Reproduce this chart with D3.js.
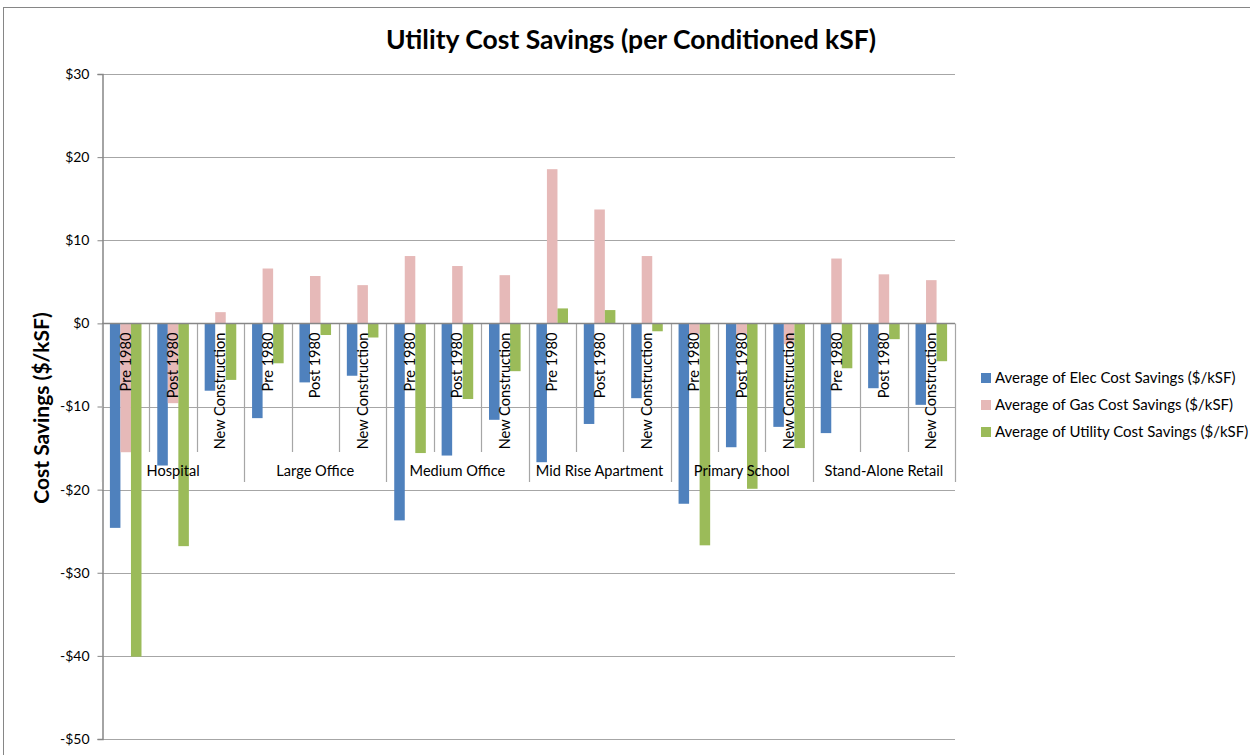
<!DOCTYPE html>
<html lang="en">
<head>
    <meta charset="UTF-8">
    <title>Utility Cost Savings</title>
    <script src="https://d3js.org/d3.v7.min.js"></script>
    <style>
        body {
            margin: 0;
            padding: 0;
            background: #fff;
            font-family: Lato, "Open Sans", sans-serif;
        }
        svg {
            display: block;
        }
    </style>
</head>
<body>
    <svg id="chart" width="1250" height="755"></svg>

    <script>
        // building types (outer category level)
        const groups = ["Hospital", "Large Office", "Medium Office", "Mid Rise Apartment", "Primary School", "Stand-Alone Retail"];
        // vintage (inner category level)
        const eras = ["Pre 1980", "Post 1980", "New Construction"];

        // values per group, in era order ($/kSF)
        const elecSavings = [-24.6, -17.1, -8.1, -11.4, -7.1, -6.3, -23.7, -15.9, -11.6, -16.7, -12.1, -9.0, -21.7, -14.9, -12.45, -13.2, -7.8, -9.8];
        const gasSavings = [-15.5, -9.6, 1.35, 6.6, 5.7, 4.6, 8.1, 6.9, 5.8, 18.55, 13.7, 8.1, -1.3, -1.3, -2.5, 7.8, 5.9, 5.2];
        const utilitySavings = [-40.1, -26.8, -6.8, -4.8, -1.4, -1.7, -15.6, -9.1, -5.75, 1.8, 1.6, -0.95, -26.7, -19.9, -15.0, -5.4, -1.9, -4.55];

        const seriesNames = [
            "Average of Elec Cost Savings ($/kSF)",
            "Average of Gas Cost Savings ($/kSF)",
            "Average of Utility Cost Savings ($/kSF)"
        ];
        const seriesColors = ["#4f81bd", "#e6b9b8", "#9bbb59"];
        const yTicks = [30, 20, 10, 0, -10, -20, -30, -40, -50];

        const svg = d3.select("#chart");

        // chart frame
        svg.append("rect")
            .attr("x", 3.5).attr("y", 7.5)
            .attr("width", 1260).attr("height", 760)
            .attr("fill", "none")
            .attr("stroke", "#868686");

        const plot = { left: 102, right: 955, top: 74, bottom: 739 };

        const y = d3.scaleLinear().domain([-50, 30]).range([plot.bottom, plot.top]);

        // one slot per (group, era)
        const slots = [];
        groups.forEach((g, gi) => eras.forEach((e, ei) => slots.push({ group: g, era: e, idx: gi * eras.length + ei })));

        const xGroup = d3.scaleBand().domain(groups).range([plot.left, plot.right]);
        const xSlot = d3.scaleBand().domain(slots.map(s => s.idx)).range([plot.left, plot.right]);
        const xSeries = d3.scaleBand().domain([0, 1, 2]).range([0, xSlot.bandwidth()]).paddingInner(0).paddingOuter(0.75);

        // gridlines
        svg.append("g")
            .selectAll("line")
            .data(yTicks.filter(d => d !== 0))
            .enter().append("line")
            .attr("x1", plot.left).attr("x2", plot.right)
            .attr("y1", d => Math.round(y(d)) + 0.5).attr("y2", d => Math.round(y(d)) + 0.5)
            .attr("stroke", "#a6a6a6")
            .attr("stroke-width", 1.2);

        // y axis
        const yAxis = d3.axisLeft(y)
            .tickValues(yTicks)
            .tickSize(5)
            .tickFormat(d => (d < 0 ? "-$" : "$") + Math.abs(d));

        const yAxisG = svg.append("g")
            .attr("transform", `translate(${plot.left + 0.5},0)`)
            .call(yAxis);
        yAxisG.select(".domain").attr("stroke", "#868686").attr("stroke-width", 1.5);
        yAxisG.selectAll(".tick line").attr("stroke", "#868686");
        yAxisG.selectAll(".tick text")
            .attr("x", -13)
            .attr("font-family", "Lato, sans-serif")
            .attr("font-size", "14px")
            .attr("fill", "#000");

        // bars
        const allSeries = [elecSavings, gasSavings, utilitySavings];
        allSeries.forEach((vals, si) => {
            svg.append("g")
                .selectAll("rect")
                .data(slots)
                .enter().append("rect")
                .attr("x", s => xSlot(s.idx) + xSeries(si))
                .attr("width", xSeries.bandwidth())
                .attr("y", s => y(Math.max(0, vals[s.idx])))
                .attr("height", s => Math.abs(y(vals[s.idx]) - y(0)))
                .attr("fill", seriesColors[si]);
        });

        // category axis (at zero)
        const y0 = Math.round(y(0)) + 0.5;
        const catG = svg.append("g");

        // separators between eras (short) and groups (long)
        catG.selectAll("line.sub")
            .data(d3.range(slots.length + 1))
            .enter().append("line")
            .attr("x1", i => Math.round(plot.left + i * xSlot.step()) + 0.5)
            .attr("x2", i => Math.round(plot.left + i * xSlot.step()) + 0.5)
            .attr("y1", y0)
            .attr("y2", i => (i % eras.length === 0 ? 482 : 452))
            .attr("stroke", "#a6a6a6")
            .attr("stroke-width", 1.2);

        catG.append("line")
            .attr("x1", plot.left).attr("x2", plot.right)
            .attr("y1", y0).attr("y2", y0)
            .attr("stroke", "#868686")
            .attr("stroke-width", 1.5);

        // era labels, rotated
        catG.selectAll("text.era")
            .data(slots)
            .enter().append("text")
            .attr("transform", s => `translate(${xSlot(s.idx) + xSlot.bandwidth() / 2 + 5},${y0 + 9}) rotate(-90)`)
            .attr("text-anchor", "end")
            .attr("font-family", "Lato, sans-serif")
            .attr("font-size", "14.6px")
            .attr("fill", "#000")
            .text(s => s.era);

        // group labels
        catG.selectAll("text.group")
            .data(groups)
            .enter().append("text")
            .attr("x", g => xGroup(g) + xGroup.bandwidth() / 2)
            .attr("y", 476)
            .attr("text-anchor", "middle")
            .attr("font-family", "Lato, sans-serif")
            .attr("font-size", "14.6px")
            .attr("fill", "#000")
            .text(g => g);

        // title
        svg.append("text")
            .attr("x", 631)
            .attr("y", 49)
            .attr("text-anchor", "middle")
            .attr("font-family", "Lato, sans-serif")
            .attr("font-weight", "bold")
            .attr("font-size", "26.5px")
            .attr("fill", "#000")
            .text("Utility Cost Savings (per Conditioned kSF)");

        // y axis title
        svg.append("text")
            .attr("transform", "translate(49,408) rotate(-90)")
            .attr("text-anchor", "middle")
            .attr("font-family", "Lato, sans-serif")
            .attr("font-weight", "bold")
            .attr("font-size", "21px")
            .attr("fill", "#000")
            .text("Cost Savings ($/kSF)");

        // legend
        const legend = svg.append("g")
            .selectAll("g")
            .data(seriesNames)
            .enter().append("g")
            .attr("transform", (d, i) => `translate(981,${373 + i * 27})`);

        legend.append("rect")
            .attr("width", 10).attr("height", 10)
            .attr("fill", (d, i) => seriesColors[i]);

        legend.append("text")
            .attr("x", 14)
            .attr("y", 10)
            .attr("font-family", "Lato, sans-serif")
            .attr("font-size", "15px")
            .attr("fill", "#000")
            .text(d => d);
    </script>
</body>
</html>
